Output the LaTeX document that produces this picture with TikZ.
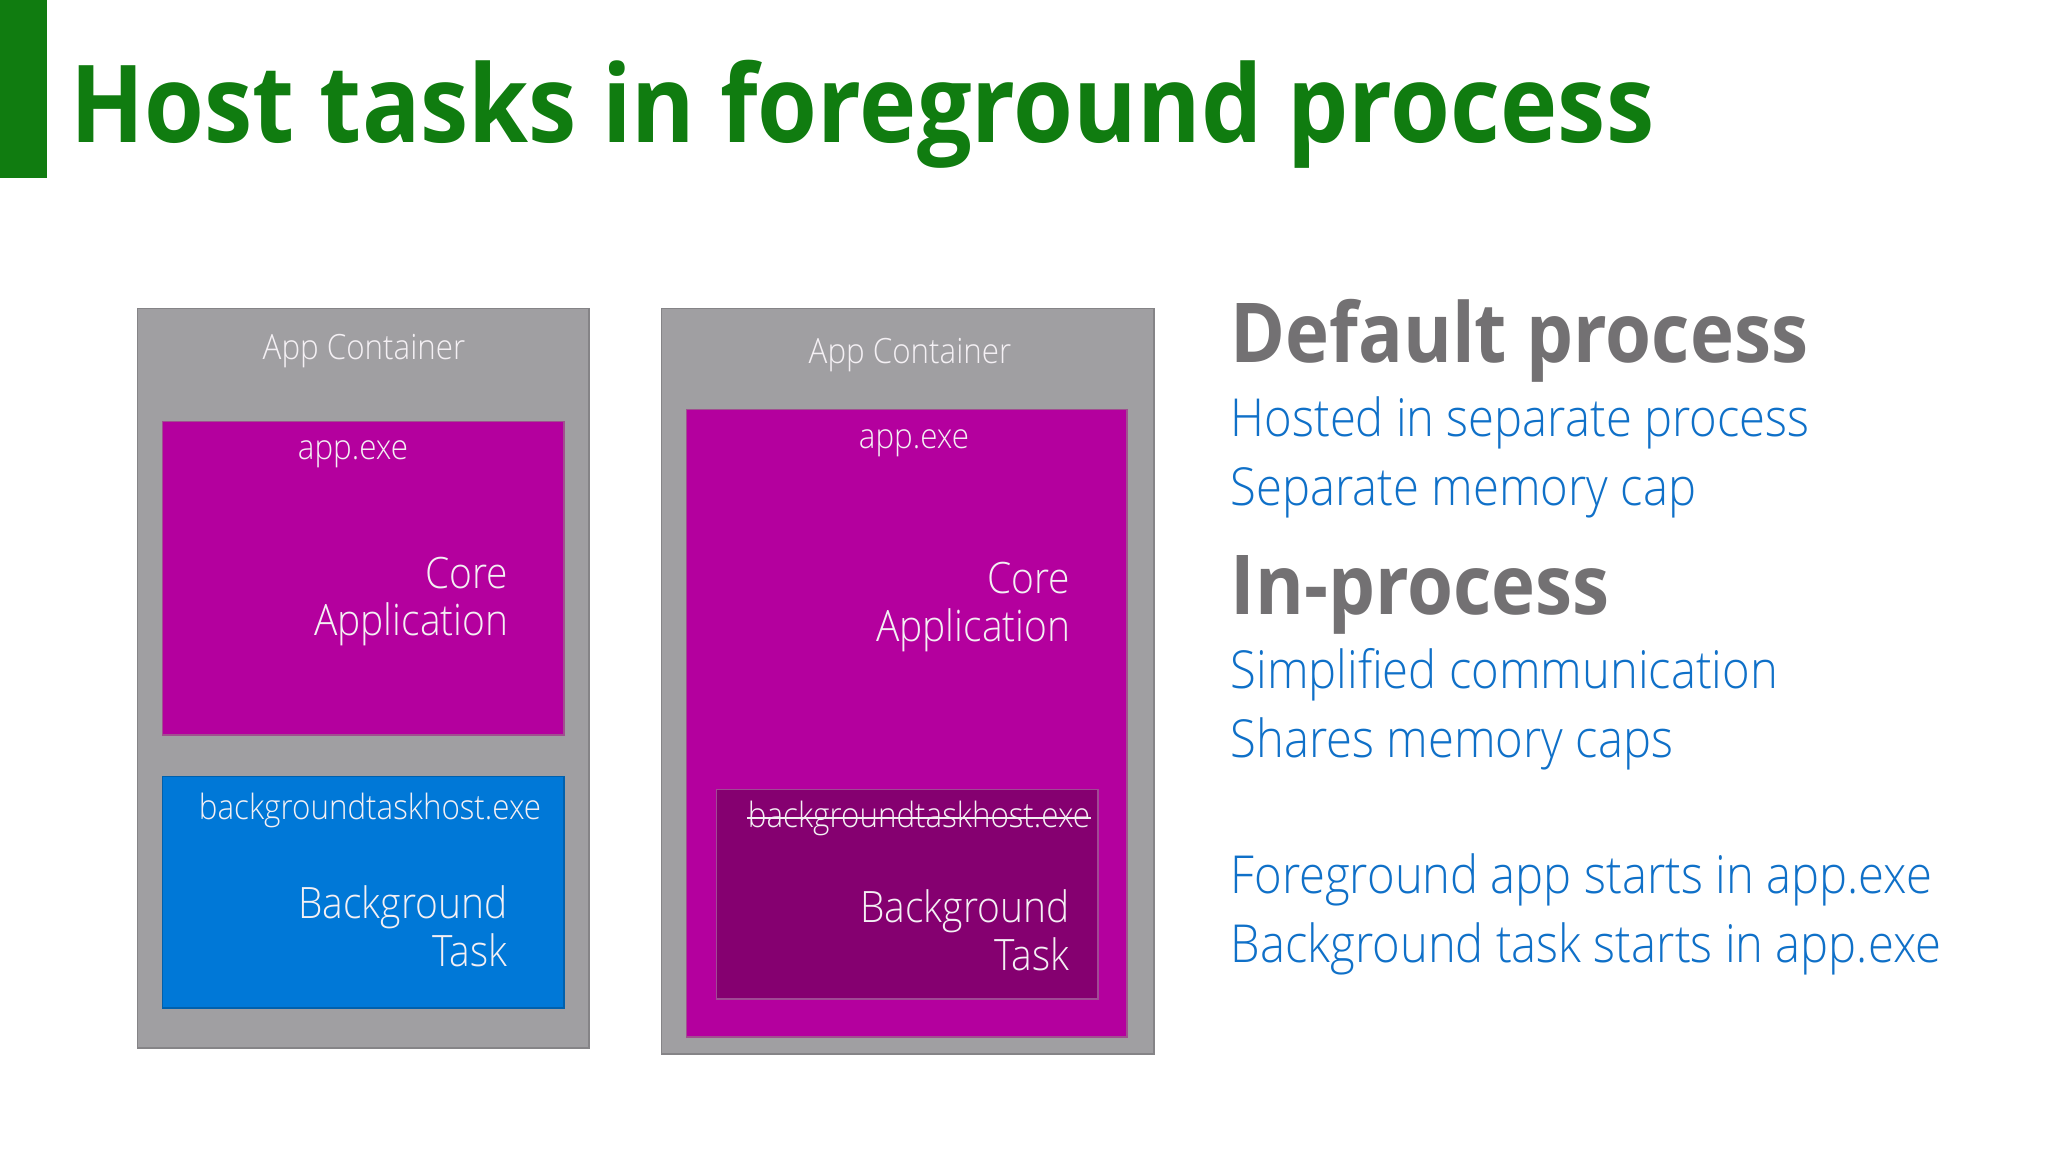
\documentclass[tikz,border=0pt]{standalone}
\usepackage{fontspec}
\setmainfont{Open Sans}[FakeStretch=0.9]
\IfFontExistsTF{Open Sans Light}
  {\newfontfamily\lightsans{Open Sans Light}[FakeStretch=0.9]}
  {\newfontfamily\lightsans{Open Sans}[FakeStretch=0.9]}
\usetikzlibrary{positioning}
\definecolor{titlegreen}{HTML}{107C10}
\definecolor{contgray}{HTML}{A09FA2}
\definecolor{contedge}{HTML}{858487}
\definecolor{appmag}{HTML}{B4009E}
\definecolor{magedge}{HTML}{A0508F}
\definecolor{bgblue}{HTML}{0078D7}
\definecolor{darkmag}{HTML}{850070}
\definecolor{inedge}{HTML}{A04A94}
\definecolor{boxtext}{HTML}{F4F0F4}
\definecolor{headgray}{HTML}{737173}
\definecolor{itemblue}{HTML}{0F70C8}
\tikzset{
  cont/.style={rectangle, draw=contedge, fill=contgray, anchor=north west,
               inner sep=0pt},
  fgproc/.style={rectangle, draw=magedge, fill=appmag, anchor=north west,
                 inner sep=0pt},
  bgproc/.style={rectangle, draw=bgblue!80!black, fill=bgblue, anchor=north west,
                 inner sep=0pt},
  inproc/.style={rectangle, draw=inedge, fill=darkmag, anchor=north west,
                 inner sep=0pt},
  boxlbl/.style={font=\lightsans\fontsize{9.9}{12}\selectfont, text=boxtext,
                 anchor=base, inner sep=0pt},
  roleLbl/.style={font=\lightsans\fontsize{12.3}{13.4}\selectfont, text=boxtext,
                  align=right, anchor=base east, inner sep=0pt},
  head/.style={font=\bfseries\fontsize{23.5}{28}\selectfont, text=headgray,
               anchor=base west, inner sep=0pt},
  item/.style={font=\lightsans\fontsize{14.9}{18}\selectfont, text=itemblue,
               anchor=base west, inner sep=0pt},
}
\begin{document}
\begin{tikzpicture}[x=0.01cm, y=-0.01cm]
  \fill[white] (0,0) rectangle (2048,1152);
  \useasboundingbox (0,0) rectangle (2048,1152);

  % title
  \fill[titlegreen] (0,0) rectangle (47,178);
  \node[font=\bfseries\fontsize{30.6}{36}\selectfont, text=titlegreen,
        anchor=base west, inner sep=0pt] (ttl) at (70,143)
    {Host tasks in foreground process};

  % default process
  \node[cont, minimum width=4.51cm, minimum height=7.39cm] (lc) at (137,308) {};
  \node[fgproc, minimum width=4.01cm, minimum height=3.13cm] (la) at (162,421) {};
  \node[bgproc, minimum width=4.01cm, minimum height=2.31cm] (lb) at (162,776) {};
  \node[boxlbl] (lcn) at (364,360) {App Container};
  \node[boxlbl] (lan) at (353,460) {app.exe};
  \node[roleLbl] (lar) at (509,636) {Core\\Application};
  \node[boxlbl] (lbn) at (370,819) {backgroundtaskhost.exe};
  \node[roleLbl] (lbr) at (508,966) {Background\\Task};

  % in-process
  \node[cont, minimum width=4.92cm, minimum height=7.45cm] (rc) at (661,308) {};
  \node[fgproc, minimum width=4.40cm, minimum height=6.27cm] (ra) at (686,409) {};
  \node[inproc, minimum width=3.81cm, minimum height=2.09cm] (rb) at (716,789) {};
  \node[boxlbl] (rcn) at (910,364) {App Container};
  \node[boxlbl] (ran) at (914,449) {app.exe};
  \node[roleLbl] (rar) at (1071,641) {Core\\Application};
  \node[boxlbl] (rbn) at (919,827) {backgroundtaskhost.exe};
  \draw[boxtext, line width=0.45pt] ([yshift=0.9mm]rbn.base west)
        -- ([yshift=0.9mm]rbn.base east);
  \node[roleLbl] (rbr) at (1070,970) {Background\\Task};

  % notes
  \node[head] (dp)  at (1230,363) {Default process};
  \node[item] (dp1) at (1230,437) {Hosted in separate process};
  \node[item] (dp2) at (1230,506) {Separate memory cap};
  \node[head] (ip)  at (1230,614) {In-process};
  \node[item] (ip1) at (1230,688) {Simplified communication};
  \node[item] (ip2) at (1230,757) {Shares memory caps};
  \node[item] (fg)  at (1230,893) {Foreground app starts in app.exe};
  \node[item] (bg)  at (1230,962) {Background task starts in app.exe};
\end{tikzpicture}
\end{document}
